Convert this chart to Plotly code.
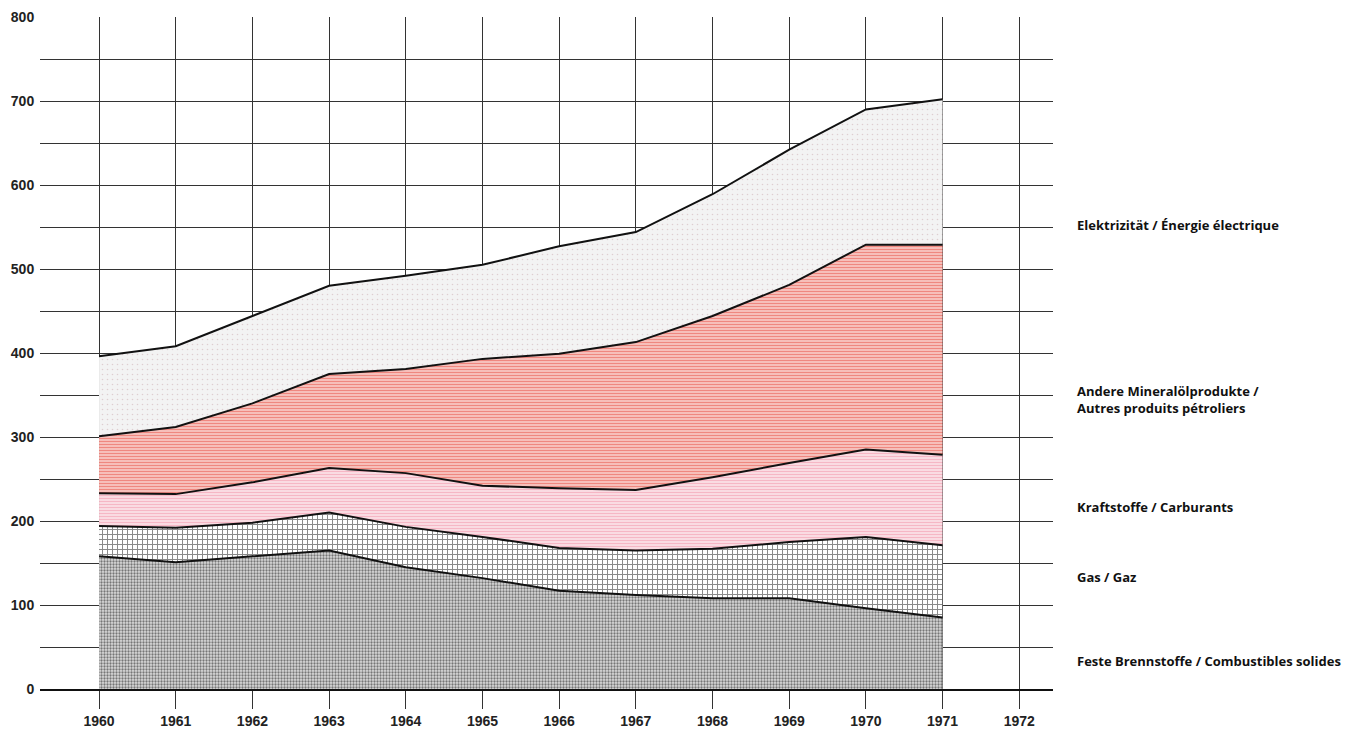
import plotly.graph_objects as go

years = [1960, 1961, 1962, 1963, 1964, 1965, 1966, 1967, 1968, 1969, 1970, 1971]

# layer values (stacked bottom to top)
feste = [158, 151, 158, 165, 145, 132, 117, 112, 108, 108, 96, 85]
gas = [36, 41, 40, 45, 48, 49, 51, 53, 59, 67, 85, 86]
kraft = [39, 40, 48, 53, 64, 61, 71, 72, 85, 94, 104, 108]
andere = [68, 80, 94, 112, 124, 151, 160, 176, 192, 212, 244, 250]
elek = [95, 96, 104, 105, 111, 112, 128, 131, 145, 161, 161, 173]

series_names = [
    "Feste Brennstoffe / Combustibles solides",
    "Gas / Gaz",
    "Kraftstoffe / Carburants",
    "Andere Mineralölprodukte /<br>Autres produits pétroliers",
    "Elektrizität / Énergie électrique",
]
label_y = [33, 133, 217, 345, 552]

x_ticks = list(range(1960, 1973))
y_ticks = list(range(0, 801, 50))
y_text = [str(v) if v % 100 == 0 else "" for v in y_ticks]

patterns = [
    dict(shape=".", fgcolor="#111111", bgcolor="#dadada", size=3, solidity=0.45),
    dict(shape="+", fgcolor="#111111", bgcolor="#ffffff", size=5, solidity=0.35),
    dict(shape="-", fgcolor="#f28ea2", bgcolor="#fbe1e8", size=3, solidity=0.45),
    dict(shape="-", fgcolor="#e42b1f", bgcolor="#fbe4e0", size=3, solidity=0.6),
    dict(shape=".", fgcolor="#c9a9ae", bgcolor="#f3f3f3", size=5, solidity=0.08),
]

fig = go.Figure()
for vals, name, pat in zip([feste, gas, kraft, andere, elek], series_names, patterns):
    fig.add_trace(go.Scatter(
        x=years, y=vals, name=name, stackgroup="one", mode="lines",
        line=dict(color="#111111", width=2),
        fillcolor=pat["bgcolor"], fillpattern=pat,
        hoverinfo="skip",
    ))

for name, yv in zip(series_names, label_y):
    fig.add_annotation(
        text=name, xref="paper", yref="y", x=(1075 - 40) / 1013, y=yv,
        xanchor="left", yanchor="middle", align="left", showarrow=False,
        font=dict(family="Open Sans", size=13, color="#111111", weight=700),
    )

fig.update_layout(
    width=1361, height=735,
    margin=dict(l=32, r=316, t=9, b=54, autoexpand=False),
    paper_bgcolor="#ffffff", plot_bgcolor="#ffffff",
    showlegend=False,
    xaxis=dict(
        range=[1959.23, 1972.44], tickvals=x_ticks, ticktext=[str(v) for v in x_ticks],
        showgrid=True, gridcolor="#333333", gridwidth=1,
        ticks="outside", ticklen=18, tickcolor="#333333", tickwidth=1,
        showline=True, linecolor="#111111", linewidth=2, zeroline=False,
        tickfont=dict(family="Liberation Sans", size=14, color="#222222", weight="bold"),
        layer="above traces", automargin=False,
    ),
    yaxis=dict(
        range=[0, 800], tickvals=y_ticks, ticktext=y_text,
        showgrid=True, gridcolor="#333333", gridwidth=1,
        ticks="outside", ticklen=2, tickcolor="rgba(0,0,0,0)",
        zeroline=False, showline=False, automargin=False,
        tickfont=dict(family="Liberation Sans", size=14, color="#222222", weight="bold"),
    ),
)

fig.write_html("out.html")
